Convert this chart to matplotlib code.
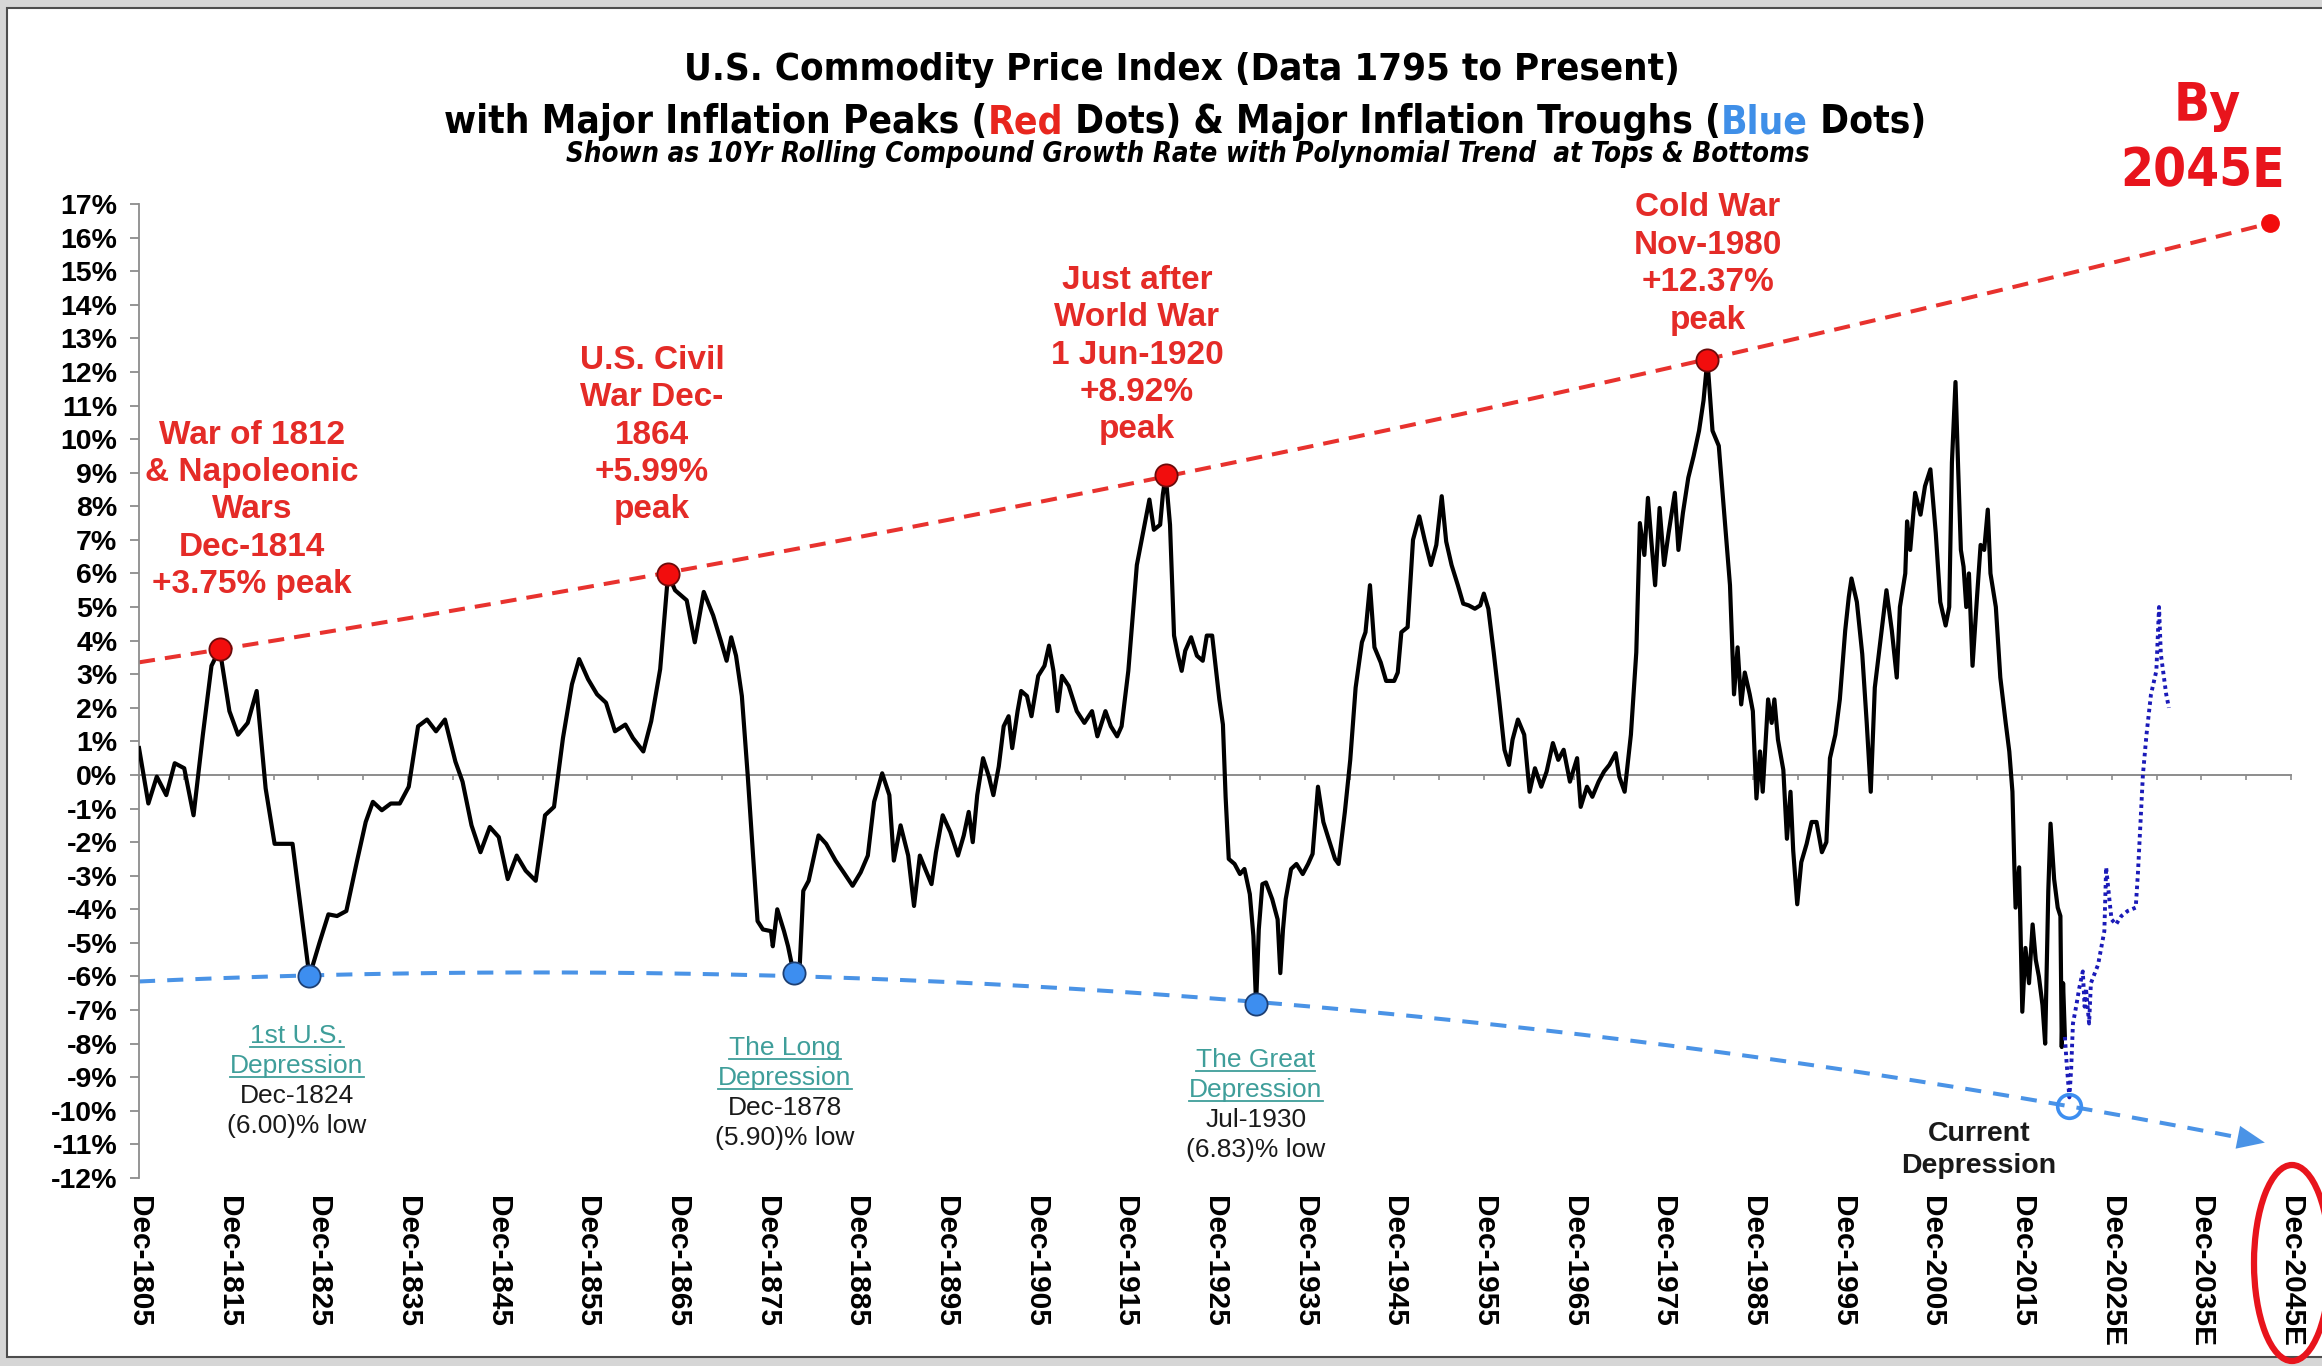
import os
import numpy as np
import matplotlib
matplotlib.use("Agg")
import matplotlib.pyplot as plt
from matplotlib import font_manager as fm
from matplotlib.font_manager import FontProperties
from matplotlib.patches import Ellipse, Rectangle
from matplotlib.lines import Line2D

# ---------------- data ----------------
hist_years = [
    1805.92, 1806.96, 1807.90, 1808.96, 1809.90, 1810.96, 1812.00, 1813.04, 1814.00, 1814.92,
    1816.00, 1816.96, 1818.04, 1819.04, 1820.04, 1821.04, 1823.04, 1824.92, 1826.04, 1827.04,
    1828.00, 1829.04, 1830.20, 1831.20, 1832.00, 1833.00, 1834.00, 1835.00, 1836.00, 1837.04,
    1838.04, 1839.04, 1840.04, 1841.20, 1842.00, 1843.00, 1844.00, 1845.04, 1846.04, 1847.04,
    1848.04, 1849.04, 1850.16, 1851.20, 1852.20, 1853.20, 1854.20, 1855.00, 1856.00, 1857.00,
    1858.00, 1859.00, 1860.16, 1861.00, 1862.16, 1863.04, 1864.04, 1864.92,
    1865.70, 1867.00, 1867.90, 1868.90, 1869.95, 1870.80, 1871.45, 1871.96, 1872.50, 1873.15,
    1873.80, 1874.40, 1874.90, 1875.50, 1876.40, 1876.60, 1877.10, 1877.85, 1878.30, 1878.92,
    1879.60, 1880.00, 1880.60, 1881.70, 1882.55, 1883.60, 1884.50, 1885.50, 1886.40, 1887.20,
    1887.90, 1888.80, 1889.60, 1890.10, 1890.85, 1891.70, 1892.35, 1893.00, 1893.60, 1894.30,
    1894.80, 1895.55, 1896.40, 1897.25, 1897.90, 1898.45, 1898.90, 1899.40, 1900.05, 1900.70,
    1901.20, 1901.80, 1902.35, 1902.90, 1903.30, 1903.90, 1904.30, 1904.95, 1905.45, 1906.20,
    1906.90, 1907.40, 1907.90, 1908.35, 1908.85, 1909.60, 1910.50, 1911.35, 1912.20, 1912.80,
    1913.70, 1914.30, 1915.00, 1915.50, 1916.25, 1917.20, 1917.95, 1918.60, 1919.10, 1919.80,
    1920.10, 1920.42, 1920.90, 1921.35, 1921.80, 1922.20, 1922.60, 1923.25, 1923.90, 1924.55,
    1925.00, 1925.60,
    1926.40, 1926.80, 1927.10, 1927.45, 1928.10, 1928.70, 1929.20, 1929.80, 1930.20, 1930.50,
    1930.80, 1931.20, 1931.60, 1932.30, 1932.90, 1933.20, 1933.50, 1933.80, 1934.40, 1935.00,
    1935.70, 1936.30, 1936.80, 1937.40, 1938.00, 1938.70, 1939.30, 1939.70, 1940.40, 1941.00,
    1941.60, 1942.30, 1942.70, 1943.20, 1943.70, 1944.40, 1945.00, 1945.90, 1946.30, 1946.70,
    1947.40, 1948.00, 1948.70, 1949.30, 1950.00, 1950.60, 1951.20, 1951.70, 1952.30, 1953.00,
    1953.60, 1954.20, 1954.90, 1955.50, 1955.90, 1956.40, 1957.00, 1957.60, 1958.20, 1958.70,
    1959.10, 1959.70, 1960.40, 1961.00, 1961.60, 1962.30, 1962.90, 1963.60, 1964.20, 1964.80,
    1965.50, 1966.30, 1966.70, 1967.40, 1968.00, 1968.70, 1969.30, 1969.90, 1970.60, 1971.00,
    1971.60, 1972.30, 1972.90, 1973.30, 1973.80, 1974.20, 1974.60, 1975.00, 1975.50, 1976.00,
    1976.50, 1977.20, 1977.60, 1978.10, 1978.70, 1979.30, 1979.90, 1980.40, 1980.83, 1981.40,
    1982.10, 1982.70, 1983.35, 1983.80, 1984.20, 1984.60, 1985.00,
    1985.55, 1985.90, 1986.30, 1986.70, 1987.00, 1987.60, 1988.00, 1988.30, 1988.70, 1989.30,
    1989.70, 1990.10, 1990.40, 1990.85, 1991.30, 1991.90, 1992.45, 1993.00, 1993.60, 1994.10,
    1994.50, 1995.10, 1995.60, 1996.20, 1996.60, 1996.90, 1997.50, 1998.10, 1998.60, 1999.05,
    1999.50, 2000.10, 2000.80, 2001.40, 2001.95, 2002.30, 2002.90, 2003.10, 2003.45, 2004.00,
    2004.60, 2005.10, 2005.70, 2006.30, 2006.80, 2007.40, 2007.80, 2008.10, 2008.50, 2008.80,
    2009.10, 2009.40, 2009.70, 2010.00, 2010.40, 2010.90, 2011.30, 2011.70, 2012.10, 2012.40,
    2013.00, 2013.50, 2014.10, 2014.50, 2014.85, 2015.05, 2015.20, 2015.60, 2015.95, 2016.30,
    2016.70, 2017.10, 2017.45, 2017.80, 2018.20, 2018.50, 2018.85, 2019.10, 2019.50, 2019.90,
    2020.20, 2020.35, 2020.50, 2020.70,
]
hist_vals = [
    0.80, -0.85, -0.05, -0.60, 0.35, 0.20, -1.20, 1.20, 3.25, 3.75,
    1.90, 1.20, 1.55, 2.50, -0.40, -2.05, -2.05, -6.00, -5.00, -4.15,
    -4.20, -4.05, -2.60, -1.40, -0.80, -1.05, -0.85, -0.85, -0.35, 1.45,
    1.65, 1.30, 1.65, 0.40, -0.20, -1.50, -2.30, -1.55, -1.85, -3.10,
    -2.40, -2.85, -3.15, -1.20, -0.95, 1.10, 2.70, 3.45, 2.85, 2.40,
    2.15, 1.30, 1.50, 1.10, 0.70, 1.60, 3.15, 5.99,
    5.50, 5.20, 3.95, 5.45, 4.75, 4.00, 3.40, 4.10, 3.55, 2.35,
    0.00, -2.40, -4.35, -4.60, -4.65, -5.10, -4.00, -4.65, -5.10, -5.90,
    -5.70, -3.45, -3.15, -1.80, -2.05, -2.55, -2.90, -3.30, -2.90, -2.40,
    -0.80, 0.05, -0.60, -2.55, -1.50, -2.40, -3.90, -2.40, -2.80, -3.25,
    -2.30, -1.20, -1.70, -2.40, -1.80, -1.10, -2.00, -0.60, 0.50, -0.05,
    -0.60, 0.25, 1.45, 1.75, 0.80, 1.90, 2.50, 2.35, 1.75, 2.95,
    3.25, 3.85, 3.10, 1.90, 2.95, 2.65, 1.90, 1.55, 1.90, 1.15,
    1.90, 1.45, 1.15, 1.45, 3.10, 6.25, 7.30, 8.20, 7.30, 7.45,
    8.35, 8.92, 7.45, 4.15, 3.55, 3.10, 3.70, 4.10, 3.55, 3.40,
    4.15, 4.15,
    2.25, 1.50, -0.65, -2.50, -2.65, -2.95, -2.80, -3.55, -4.80, -6.83,
    -4.60, -3.25, -3.20, -3.70, -4.30, -5.90, -4.60, -3.70, -2.80, -2.65,
    -2.95, -2.65, -2.35, -0.35, -1.40, -2.00, -2.50, -2.65, -1.10, 0.45,
    2.60, 3.95, 4.25, 5.65, 3.80, 3.35, 2.80, 2.80, 3.05, 4.25,
    4.40, 7.00, 7.70, 7.00, 6.25, 6.85, 8.30, 6.95, 6.25, 5.65,
    5.10, 5.05, 4.95, 5.05, 5.40, 4.95, 3.65, 2.25, 0.75, 0.30,
    1.05, 1.65, 1.20, -0.50, 0.20, -0.35, 0.10, 0.95, 0.45, 0.75,
    -0.20, 0.50, -0.95, -0.35, -0.65, -0.20, 0.10, 0.30, 0.65, -0.05,
    -0.50, 1.20, 3.65, 7.50, 6.55, 8.25, 6.90, 5.65, 7.95, 6.25,
    7.20, 8.40, 6.70, 7.80, 8.85, 9.50, 10.25, 11.15, 12.37, 10.25,
    9.80, 7.80, 5.65, 2.40, 3.80, 2.10, 3.05,
    2.40, 1.90, -0.70, 0.70, -0.50, 2.25, 1.55, 2.25, 1.05, 0.15,
    -1.90, -0.50, -2.25, -3.85, -2.60, -2.05, -1.40, -1.40, -2.30, -2.00,
    0.50, 1.20, 2.25, 4.30, 5.30, 5.85, 5.15, 3.60, 1.55, -0.50,
    2.60, 3.95, 5.50, 4.30, 2.90, 5.00, 6.00, 7.55, 6.70, 8.40,
    7.75, 8.60, 9.10, 7.20, 5.15, 4.45, 5.00, 9.30, 11.70, 9.10,
    6.70, 6.20, 5.00, 6.00, 3.25, 5.30, 6.85, 6.70, 7.90, 6.00,
    5.00, 2.90, 1.55, 0.70, -0.50, -2.60, -3.95, -2.75, -7.05, -5.15,
    -6.20, -4.45, -5.50, -6.00, -6.85, -8.00, -3.45, -1.45, -3.10, -3.95,
    -4.20, -8.10, -6.20, -7.80,
]

proj_years = [2020.70, 2020.90, 2021.20, 2021.40, 2021.60, 2021.95, 2022.30, 2022.70, 2022.90, 2023.05,
              2023.40, 2023.60, 2024.40, 2025.10, 2025.30, 2025.70, 2025.90, 2026.40, 2027.00, 2027.70,
              2028.60, 2028.85, 2029.40, 2029.80, 2030.30, 2030.90, 2031.20, 2031.40, 2031.70, 2032.00,
              2032.30]
proj_vals = [-7.80, -8.60, -9.60, -8.75, -7.40, -6.90, -6.35, -5.85, -6.90, -6.35,
             -7.40, -6.20, -5.65, -4.65, -2.75, -3.80, -4.30, -4.45, -4.20, -4.05,
             -3.95, -2.90, 0.00, 1.20, 2.40, 3.10, 5.00, 3.60, 3.00, 2.40,
             2.00]

peak_years = [1814.92, 1864.92, 1920.42, 1980.83]
peak_vals = [3.75, 5.99, 8.92, 12.37]
peak_labels = ["War of 1812\n& Napoleonic\nWars\nDec-1814\n+3.75% peak",
               "U.S. Civil\nWar Dec-\n1864\n+5.99%\npeak",
               "Just after\nWorld War\n1 Jun-1920\n+8.92%\npeak",
               "Cold War\nNov-1980\n+12.37%\npeak"]

trough_years = [1824.92, 1878.92, 1930.50]
trough_vals = [-6.00, -5.90, -6.83]
trough_names = [["1st U.S.", "Depression"], ["The Long", "Depression"], ["The Great", "Depression"]]
trough_details = [["Dec-1824", "(6.00)% low"], ["Dec-1878", "(5.90)% low"], ["Jul-1930", "(6.83)% low"]]

current_year = 2021.20
current_val = -9.85
current_label = "Current\nDepression"
target_year = 2043.6

x_tick_labels = ["Dec-1805", "Dec-1815", "Dec-1825", "Dec-1835", "Dec-1845", "Dec-1855",
                 "Dec-1865", "Dec-1875", "Dec-1885", "Dec-1895", "Dec-1905", "Dec-1915",
                 "Dec-1925", "Dec-1935", "Dec-1945", "Dec-1955", "Dec-1965", "Dec-1975",
                 "Dec-1985", "Dec-1995", "Dec-2005", "Dec-2015", "Dec-2025E", "Dec-2035E",
                 "Dec-2045E"]
y_tick_values = list(range(-12, 18))

title_line1 = "U.S. Commodity Price Index (Data 1795 to Present)"
title_line2_parts = [("with Major Inflation Peaks (", "black"), ("Red", "#e8261e"),
                     (" Dots) & Major Inflation Troughs (", "black"), ("Blue", "#3f8fe8"),
                     (" Dots)", "black")]
subtitle = "Shown as 10Yr Rolling Compound Growth Rate with Polynomial Trend  at Tops & Bottoms"

# ---------------- styling ----------------
W, H = 2322, 1366
RED_TXT = "#e42b27"
RED_LINE = "#e8322e"
RED_DOT = "#f20d0d"
BLUE_LINE = "#4a93e6"
BLUE_DOT = "#3d8ef0"
PROJ = "#1a1ab8"
TEAL = "#3f9e9a"
GRAY = "#8c8c8c"
ARIAL = ["Liberation Sans", "DejaVu Sans"]


def find_font(names, bold=True, italic=False):
    entries = fm.fontManager.ttflist
    for n in names:
        for f in entries:
            if os.path.basename(f.fname).lower() == n.lower():
                return FontProperties(fname=f.fname)
    for f in entries:
        w = f.weight if isinstance(f.weight, int) else (700 if "bold" in str(f.weight) else 400)
        if (w >= 600) == bold and (f.style != "normal") == italic and \
                str(f.stretch) in ("condensed", "semi-condensed", "extra-condensed"):
            return FontProperties(fname=f.fname)
    return FontProperties(family=ARIAL, weight="bold", style="italic" if italic else "normal")


COND_B = find_font(["LiberationSansNarrow-Bold.ttf", "ArialNarrow-Bold.ttf", "arialnb.ttf",
                    "DejaVuSansCondensed-Bold.ttf", "NotoSans-CondensedBold.ttf",
                    "RobotoCondensed-Bold.ttf", "OpenSans-CondensedBold.ttf",
                    "OpenSans_Condensed-Bold.ttf"])
COND_BI = find_font(["LiberationSansNarrow-BoldItalic.ttf", "ArialNarrow-BoldItalic.ttf",
                     "DejaVuSansCondensed-BoldOblique.ttf", "NotoSans-CondensedBoldItalic.ttf",
                     "RobotoCondensed-BoldItalic.ttf", "OpenSans-CondensedBoldItalic.ttf",
                     "OpenSans_Condensed-BoldItalic.ttf"], italic=True)


def fx(px):
    return px / W


def fy(py):
    return 1 - py / H


fig = plt.figure(figsize=(W / 100, H / 100), dpi=100)
fig.patch.set_facecolor("#d6d6d6")
fig.add_artist(Rectangle((fx(7), fy(1357)), 1.0, fy(8) - fy(1357), transform=fig.transFigure,
                         facecolor="white", edgecolor="#4d4d4d", lw=1.5, zorder=-10))

ax = fig.add_axes([fx(139), fy(1178), fx(2291) - fx(139), fy(204) - fy(1178)])
ax.patch.set_alpha(0)
x0 = hist_years[0]
x_tick_pos = [int(s[4:8]) + 11 / 12 for s in x_tick_labels]
ax.set_xlim(x_tick_pos[0], x_tick_pos[-1])
ax.set_ylim(y_tick_values[0], y_tick_values[-1])

for s in ["top", "right"]:
    ax.spines[s].set_visible(False)
ax.spines["left"].set_color(GRAY)
ax.spines["left"].set_linewidth(1.3)
ax.spines["bottom"].set_position(("data", 0))
ax.spines["bottom"].set_color(GRAY)
ax.spines["bottom"].set_linewidth(1.4)

ax.set_yticks(y_tick_values)
ax.set_yticklabels([f"{v}%" for v in y_tick_values], fontsize=20.5, fontweight="bold", family=ARIAL)
ax.tick_params(axis="y", direction="out", length=6.5, width=1.3, color=GRAY, pad=9)

minor_pos = np.arange(x_tick_pos[0], x_tick_pos[-1] + 0.1, 5)
ax.set_xticks(minor_pos)
ax.tick_params(axis="x", direction="out", length=3.8, width=1.2, color=GRAY, labelbottom=False)

sec = ax.secondary_xaxis("bottom")
sec.set_xticks(x_tick_pos)
sec.set_xticklabels(x_tick_labels, rotation=-90, fontsize=21.5, fontweight="bold", family=ARIAL,
                    va="top", ha="center")
sec.spines["bottom"].set_visible(False)
sec.tick_params(length=0, pad=13)

# trend lines (polynomial trend through tops and bottoms)
t0 = 1800.0
pk_coef = np.polyfit(np.array(peak_years) - t0, peak_vals, 2)
red_x = np.linspace(x0, target_year, 400)
ax.plot(red_x, np.polyval(pk_coef, red_x - t0), color=RED_LINE, lw=2.9, dashes=(4, 2.5), zorder=2)
ax.plot([target_year], [np.polyval(pk_coef, target_year - t0)], "o", ms=12.5, color=RED_DOT, zorder=5)

tr_x = np.array(trough_years + [current_year]) - t0
tr_y = trough_vals + [current_val]
bl_coef = np.polyfit(tr_x, tr_y, 2)
arrow_end = target_year - 0.6
blue_x = np.linspace(x0, arrow_end - 1.2, 400)
ax.plot(blue_x, np.polyval(bl_coef, blue_x - t0), color=BLUE_LINE, lw=2.9, dashes=(4, 3.0), zorder=2)
ax.annotate("", xy=(arrow_end, np.polyval(bl_coef, arrow_end - t0)),
            xytext=(arrow_end - 1.3, np.polyval(bl_coef, arrow_end - 1.3 - t0)),
            arrowprops=dict(arrowstyle="-|>,head_length=0.9,head_width=0.38", color=BLUE_LINE,
                            lw=0.01, mutation_scale=22, shrinkA=0, shrinkB=0), zorder=3)

# series
ax.plot(hist_years, hist_vals, color="black", lw=3.0, zorder=3, solid_joinstyle="round")
ax.plot(proj_years, proj_vals, color=PROJ, lw=2.8, ls=(0, (0.9, 1.0)), zorder=3)

ax.plot(peak_years, peak_vals, "o", ms=16, mfc=RED_DOT, mec="#6b0b0b", mew=1.3, zorder=6)
ax.plot(trough_years, trough_vals, "o", ms=16, mfc=BLUE_DOT, mec="#1d3f73", mew=1.3, zorder=6)
ax.plot([current_year], [current_val], "o", ms=17, mfc="none", mec=BLUE_DOT, mew=2.6, zorder=6)

# ---------------- annotations ----------------
peak_pos = [(252, 510), (652, 435), (1137, 355), (1708, 264)]
for lbl, (px, py) in zip(peak_labels, peak_pos):
    fig.text(fx(px), fy(py), lbl, ha="center", va="center", color=RED_TXT, fontsize=24,
             fontweight="bold", family=ARIAL, linespacing=1.27)

trough_pos = [(297, 1036), (785, 1048), (1256, 1060)]
teal_texts = []
for names, details, (px, py) in zip(trough_names, trough_details, trough_pos):
    lines = [(names[0], TEAL), (names[1], TEAL), (details[0], "#1a1a1a"), (details[1], "#1a1a1a")]
    for k, (s, c) in enumerate(lines):
        t = fig.text(fx(px), fy(py + 30 * k), s, ha="center", va="center", color=c,
                     fontsize=19, family=ARIAL)
        if c == TEAL:
            teal_texts.append(t)

fig.text(fx(1979), fy(1150), current_label, ha="center", va="center", color="#1a1a1a",
         fontsize=20.5, fontweight="bold", family=ARIAL, linespacing=1.33)

# red ellipse around the last tick label
fig.add_artist(Ellipse((fx(2292), fy(1263)), 76 / W, 196 / H, transform=fig.transFigure,
                       facecolor="none", edgecolor="#e8141c", lw=4.5, zorder=10))

# ---------------- titles ----------------
renderer = fig.canvas.get_renderer()


def text_width(s, size, fp):
    t = fig.text(0, 0, s, fontproperties=fp, fontsize=size)
    w = t.get_window_extent(renderer).width
    t.remove()
    return w


fs1 = 30 * 997 / text_width(title_line1, 30, COND_B)
fig.text(fx(1182), fy(70), title_line1, ha="center", va="center", fontproperties=COND_B, fontsize=fs1)

full2 = "".join(p for p, _ in title_line2_parts)
fs2 = 30 * 1481 / text_width(full2, 30, COND_B)
left = 1185 - 1481 / 2
prefix = ""
for part, col in title_line2_parts:
    prefix += part
    w = text_width(prefix, fs2, COND_B)
    fig.text(fx(left + w), fy(133), part, ha="right", va="baseline", color=col,
             fontproperties=COND_B, fontsize=fs2)

fs3 = 20 * 1243 / text_width(subtitle, 20, COND_BI)
fig.text(fx(1188), fy(154), subtitle, ha="center", va="center", fontproperties=COND_BI, fontsize=fs3)

fsb = 40 * 165 / text_width("2045E", 40, COND_B)
fig.text(fx(2207), fy(106), "By", ha="center", va="center", color="#e8141c",
         fontproperties=COND_B, fontsize=fsb)
fig.text(fx(2203), fy(171), "2045E", ha="center", va="center", color="#e8141c",
         fontproperties=COND_B, fontsize=fsb)

# underline the teal depression names
fig.canvas.draw()
inv = fig.transFigure.inverted()
for t in teal_texts:
    bb = t.get_window_extent(renderer)
    (ax0, ay0), (ax1, _) = inv.transform([(bb.x0, bb.y0 + 1), (bb.x1, bb.y1)])
    fig.add_artist(Line2D([ax0, ax1], [ay0, ay0], transform=fig.transFigure, color=TEAL, lw=1.3))

fig.savefig("out.png", dpi=100, facecolor=fig.get_facecolor())
